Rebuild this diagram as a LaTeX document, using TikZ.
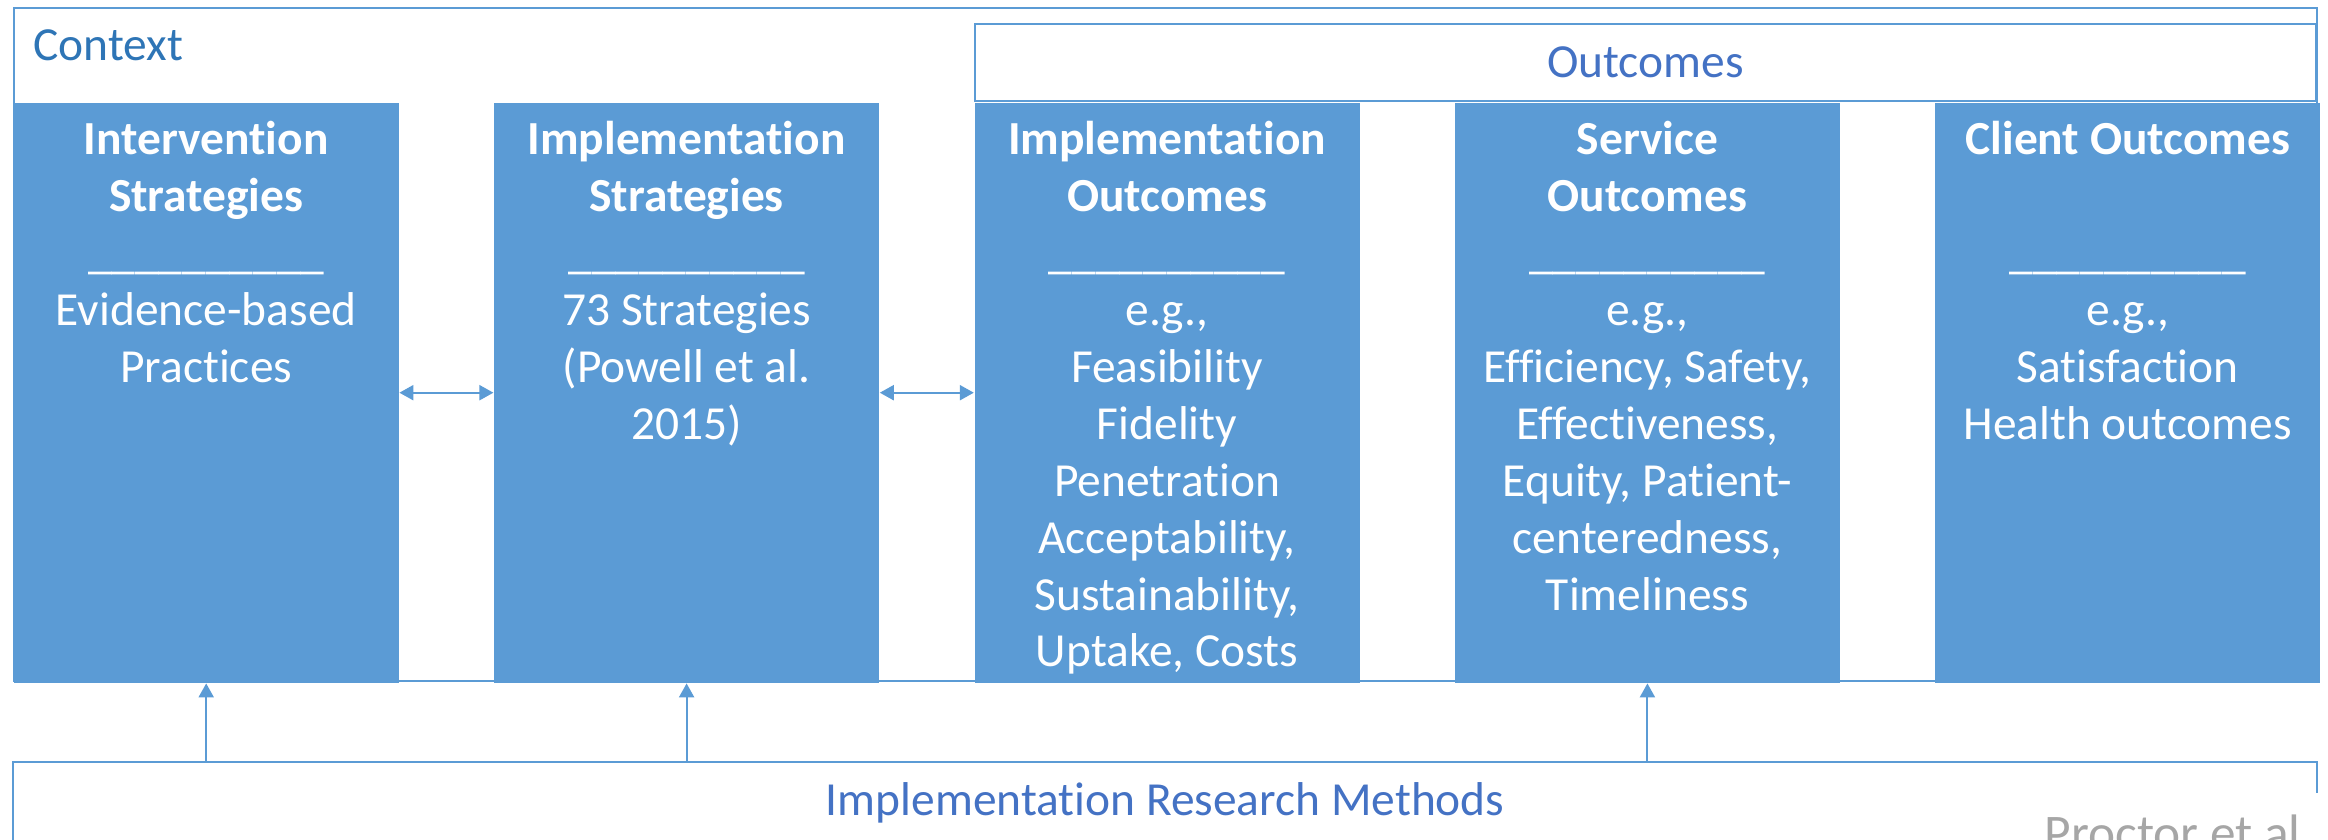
\documentclass[tikz,border=0pt]{standalone}
\usepackage{fontspec}
\setmainfont{Carlito}[Ligatures=NoCommon]
\usetikzlibrary{arrows.meta,positioning,calc}
\definecolor{boxblue}{HTML}{5B9BD5}
\definecolor{textblue}{HTML}{4472C4}
\definecolor{ctxblue}{HTML}{2E75B6}
\definecolor{citegray}{HTML}{A6A6A6}

\begin{document}
\begin{tikzpicture}[>={Triangle[length=0.14cm,width=0.15cm]}, node distance=0.94cm]
\tikzstyle{every node}=[font=\fontsize{13.5}{16.2}\selectfont]
\tikzstyle{frame}=[draw=boxblue,line width=0.6pt,inner sep=0]
\tikzstyle{stratbox}=[fill=boxblue,minimum width=3.85cm,minimum height=5.80cm,inner sep=0]
\tikzstyle{boxtext}=[text=white,align=center,inner sep=0]
\tikzstyle{link}=[draw=boxblue,line width=0.6pt]
\useasboundingbox (0,0) rectangle (23.28,-8.40);
\fill[white] (0,0) rectangle (23.28,-8.40);

% context frame
\node[frame,anchor=north west,minimum width=23.03cm,minimum height=6.73cm] (context) at (0.13,-0.07) {};
\node[anchor=base west,text=ctxblue,inner sep=0] (ctxlabel) at ($(context.north west)+(0.2,-0.53)$) {Context};

% boxes
\node[stratbox,anchor=north west] (iv) at (0.13,-1.02) {};
\node[stratbox,right=of iv] (is) {};
\node[stratbox,right=of is] (io) {};
\node[stratbox,right=of io] (so) {};
\node[stratbox,right=of so] (co) {};

\node[frame,anchor=south west,minimum width=13.41cm,minimum height=0.77cm,text=textblue] (outc) at (io.north west) {Outcomes};

\node[boxtext,below=0.12cm of iv.north] (ivtext) {\strut\textbf{Intervention}\\\textbf{Strategies}\\\_\_\_\_\_\_\_\_\_\_\\Evidence-based\\Practices};
\node[boxtext,below=0.12cm of is.north] (istext) {\strut\textbf{Implementation}\\\textbf{Strategies}\\\_\_\_\_\_\_\_\_\_\_\\73 Strategies\\(Powell et al.\\2015)};
\node[boxtext,below=0.12cm of io.north] (iotext) {\strut\textbf{Implementation}\\\textbf{Outcomes}\\\_\_\_\_\_\_\_\_\_\_\\e.g.,\\Feasibility\\Fidelity\\Penetration\\Acceptability,\\Sustainability,\\Uptake, Costs};
\node[boxtext,below=0.12cm of so.north] (sotext) {\strut\textbf{Service}\\\textbf{Outcomes}\\\_\_\_\_\_\_\_\_\_\_\\e.g.,\\Efficiency, Safety,\\Effectiveness,\\Equity, Patient-\\centeredness,\\Timeliness};
\node[boxtext,below=0.12cm of co.north] (cotext) {\strut\textbf{Client Outcomes}\\~\\\_\_\_\_\_\_\_\_\_\_\\e.g.,\\Satisfaction\\Health outcomes};

% methods
\node[anchor=north west,minimum width=23.03cm,minimum height=0.80cm,inner sep=0,text=textblue] (methods) at (0.13,-7.62) {Implementation Research Methods};
\draw[frame] (methods.south west) -- (methods.north west) -- (methods.north east) -- ($(methods.north east)+(0,-0.31)$);

% arrows
\draw[link,<->] (iv) -- (is);
\draw[link,<->] (is) -- (io);
\draw[link,->] (methods.north -| iv) -- (iv.south);
\draw[link,->] (methods.north -| is) -- (is.south);
\draw[link,->] (methods.north -| so) -- (so.south);

\node[anchor=base west,text=citegray,inner sep=0,font=\fontsize{14.6}{17.5}\selectfont] (cite) at (20.44,-8.50) {Proctor et al. 2};
\end{tikzpicture}
\end{document}
